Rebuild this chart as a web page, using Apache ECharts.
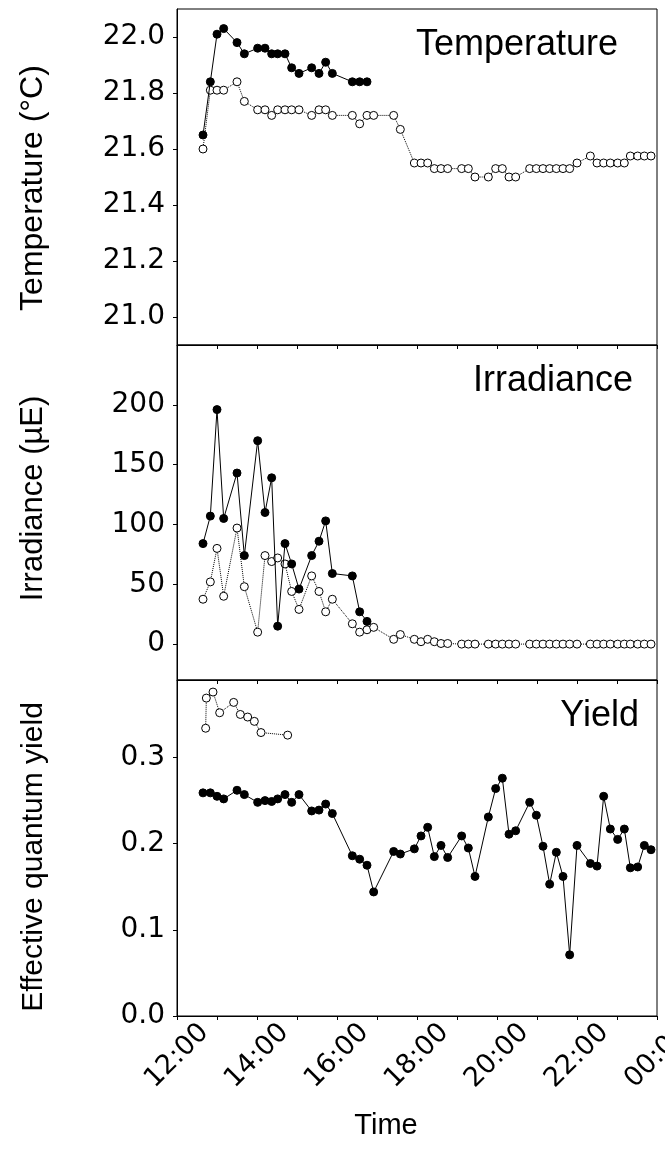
<!DOCTYPE html>
<html>
<head>
  <meta charset="utf-8">
  <title>Temperature, irradiance and yield</title>
  <style>
    html, body, #chart { margin: 0; padding: 0; width: 665px; height: 1167px; background: #fff; }
  </style>
</head>
<body>
  <div id="chart"></div>
  <script src="https://cdn.jsdelivr.net/npm/echarts@6/dist/echarts.min.js"></script>
  <script>
    // sample times (shared by most series)
    var sampleTimes = ['12:39','12:50','13:00','13:10','13:30','13:41','14:01','14:12','14:22','14:31',
      '14:42','14:52','15:03','15:22','15:33','15:43','15:53','16:23','16:34','16:45',
      '16:55','17:25','17:35','17:56','18:06','18:16','18:26','18:36','18:46','19:07',
      '19:17','19:27','19:47','19:58','20:08','20:18','20:28','20:49','20:59','21:09',
      '21:19','21:29','21:39','21:49','22:00','22:20','22:30','22:40','22:50','23:01',
      '23:11','23:20','23:31','23:41','23:51'];

    // temperature (°C)
    var tempFilled = [21.65, 21.84, 22.01, 22.03, 21.98, 21.94, 21.96, 21.96, 21.94, 21.94,
      21.94, 21.89, 21.87, 21.89, 21.87, 21.91, 21.87, 21.84, 21.84, 21.84];
    var tempOpen = [21.60, 21.81, 21.81, 21.81, 21.84, 21.77, 21.74, 21.74, 21.72, 21.74,
      21.74, 21.74, 21.74, 21.72, 21.74, 21.74, 21.72, 21.72, 21.69, 21.72,
      21.72, 21.72, 21.67, 21.55, 21.55, 21.55, 21.53, 21.53, 21.53, 21.53,
      21.53, 21.50, 21.50, 21.53, 21.53, 21.50, 21.50, 21.53, 21.53, 21.53,
      21.53, 21.53, 21.53, 21.53, 21.55, 21.575, 21.55, 21.55, 21.55, 21.55,
      21.55, 21.575, 21.575, 21.575, 21.575];

    // irradiance (uE)
    var irrFilled = [84, 107, 196, 105, 143, 74, 170, 110, 139, 15,
      84, 67, 46, 74, 86, 103, 59, 57, 27, 19];
    var irrOpen = [37.5, 52, 80, 40, 97, 48, 10, 74, 69, 72,
      67, 44, 29, 57, 44, 27, 37.5, 17, 10, 12,
      14, 4, 8, 4, 2, 4, 2, 0.5, 0.5, 0,
      0, 0, 0, 0, 0, 0, 0, 0, 0, 0,
      0, 0, 0, 0, 0, 0, 0, 0, 0, 0,
      0, 0, 0, 0, 0];

    // effective quantum yield
    var yieldFilled = [0.259, 0.259, 0.255, 0.252, 0.262, 0.257, 0.248, 0.250, 0.249, 0.252,
      0.257, 0.248, 0.257, 0.238, 0.239, 0.246, 0.235, 0.186, 0.182, 0.175,
      0.144, 0.191, 0.188, 0.194, 0.209, 0.219, 0.185, 0.198, 0.184, 0.209,
      0.195, 0.162, 0.231, 0.264, 0.276, 0.211, 0.215, 0.248, 0.233, 0.197,
      0.153, 0.190, 0.162, 0.071, 0.198, 0.177, 0.174, 0.255, 0.217, 0.205,
      0.217, 0.172, 0.173, 0.198, 0.193];
    var yieldOpenTimes = ['12:43','12:44','12:54','13:04','13:25','13:35','13:46','13:56','14:06','14:46'];
    var yieldOpen = [0.334, 0.369, 0.376, 0.352, 0.364, 0.350, 0.347, 0.342, 0.329, 0.326];

    var panelTitles = ['Temperature', 'Irradiance', 'Yield'];
    var axisNames = ['Temperature (\u00B0C)', 'Irradiance (\u00B5E)', 'Effective quantum yield'];
    var tempTicks = [21.0, 21.2, 21.4, 21.6, 21.8, 22.0];
    var irrTicks = [0, 50, 100, 150, 200];
    var yieldTicks = [0, 0.1, 0.2, 0.3];
    var timeTicks = [12, 14, 16, 18, 20, 22, 24];

    function toHours(s) {
      var p = s.split(':');
      return +p[0] + (+p[1]) / 60;
    }
    function pairs(times, vals) {
      return vals.map(function (v, i) { return [toHours(times[i]), v]; });
    }

    var FONT = 'Liberation Sans, Arial, sans-serif';
    var TICKFONT = 'DejaVu Sans, Verdana, sans-serif';
    var grids = [
      { left: 177, right: 8, top: 9, height: 336 },
      { left: 177, right: 8, top: 345, height: 335 },
      { left: 177, right: 8, top: 680, height: 336 }
    ];
    grids.forEach(function (g) {
      g.show = true;
      g.borderColor = '#000';
      g.borderWidth = 1;
      g.containLabel = false;
      g.outerBoundsMode = 'none';
    });

    function xAxis(idx) {
      var last = idx === 2;
      return {
        type: 'value', gridIndex: idx, min: 12, max: 24, interval: 1,
        name: last ? 'Time' : '', nameLocation: 'middle', nameGap: 95,
        nameTextStyle: { fontFamily: FONT, fontSize: 29, color: '#000', padding: [0, 62, 0, 0] },
        axisLine: { show: true, onZero: false, lineStyle: { color: '#000', width: 1 } },
        axisTick: { show: true, inside: false, length: 4, lineStyle: { color: '#000' } },
        splitLine: { show: false },
        axisLabel: {
          show: last, rotate: 45, margin: 40, align: 'center', verticalAlign: 'middle',
          fontFamily: TICKFONT, fontSize: 27, color: '#000',
          customValues: timeTicks,
          formatter: function (v) {
            var h = Math.round(v) % 24;
            return (h < 10 ? '0' : '') + h + ':00';
          }
        }
      };
    }

    // namePad shifts the rotated title along the axis: [0, 2d, 0, 0] moves it d px down
    function yAxis(idx, min, max, ticks, digits, nameSize, namePad) {
      return {
        type: 'value', gridIndex: idx, min: min, max: max,
        name: axisNames[idx], nameLocation: 'middle', nameGap: 128,
        nameTextStyle: { fontFamily: FONT, fontSize: nameSize, color: '#000', padding: namePad },
        axisLine: { show: true, lineStyle: { color: '#000', width: 1 } },
        axisTick: { show: true, inside: false, length: 4, customValues: ticks, lineStyle: { color: '#000' } },
        splitLine: { show: false },
        axisLabel: {
          margin: 12, fontFamily: TICKFONT, fontSize: 28, color: '#000',
          customValues: ticks,
          formatter: function (v) { return v.toFixed(digits); }
        }
      };
    }

    function lineSeries(idx, data, filled) {
      return {
        type: 'line', xAxisIndex: idx, yAxisIndex: idx, data: data,
        symbol: 'circle', symbolSize: 8, showAllSymbol: true, animation: false,
        z: filled ? 3 : 2,
        lineStyle: { color: '#000', width: 1, type: filled ? 'solid' : 'dotted' },
        itemStyle: filled
          ? { color: '#000', borderColor: '#000', borderWidth: 1 }
          : { color: '#fff', borderColor: '#000', borderWidth: 1 },
        emphasis: { disabled: true }
      };
    }

    var chart = echarts.init(document.getElementById('chart'), null, { renderer: 'canvas' });
    chart.setOption({
      animation: false,
      backgroundColor: '#fff',
      title: [
        { text: panelTitles[0], right: 42, top: 22 },
        { text: panelTitles[1], right: 27, top: 358 },
        { text: panelTitles[2], right: 21, top: 693 }
      ].map(function (t) {
        t.textStyle = { fontFamily: FONT, fontSize: 36, fontWeight: 'normal', color: '#000' };
        return t;
      }),
      grid: grids,
      xAxis: [xAxis(0), xAxis(1), xAxis(2)],
      yAxis: [
        yAxis(0, 20.9, 22.1, tempTicks, 1, 32, [0, 22, 0, 0]),
        yAxis(1, -30, 250, irrTicks, 0, 31, [0, 0, 0, 28]),
        yAxis(2, 0, 0.39, yieldTicks, 1, 30, [0, 18, 0, 0])
      ],
      series: [
        lineSeries(0, pairs(sampleTimes, tempOpen), false),
        lineSeries(0, pairs(sampleTimes, tempFilled), true),
        lineSeries(1, pairs(sampleTimes, irrOpen), false),
        lineSeries(1, pairs(sampleTimes, irrFilled), true),
        lineSeries(2, pairs(yieldOpenTimes, yieldOpen), false),
        lineSeries(2, pairs(sampleTimes, yieldFilled), true)
      ]
    });
  </script>
</body>
</html>
